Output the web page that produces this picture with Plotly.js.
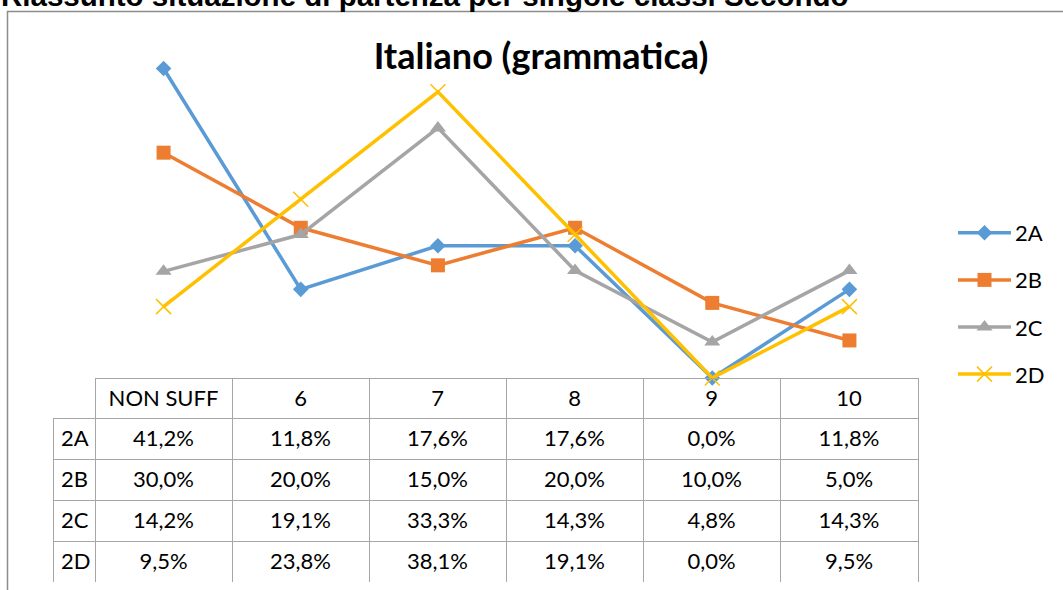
<!DOCTYPE html>
<html>
<head>
<meta charset="utf-8">
<script src="https://cdn.plot.ly/plotly-3.0.1.min.js"></script>
<style>
html,body{margin:0;padding:0;background:#fff;}
#chart{width:1063px;height:590px;}
#chart .legend .legendlines path.js-line{d:path("M5,0h53");}
#chart .legend .legendpoints path.scatterpts{transform:translate(31.5px,0px);}
#chart .cell-text{transform:translateY(3px);}
</style>
</head>
<body>
<div id="chart"></div>
<script>
const categories = ['NON SUFF', '6', '7', '8', '9', '10'];
const seriesNames = ['2A', '2B', '2C', '2D'];
const s2A = [41.2, 11.8, 17.6, 17.6, 0.0, 11.8];
const s2B = [30.0, 20.0, 15.0, 20.0, 10.0, 5.0];
const s2C = [14.2, 19.1, 33.3, 14.3, 4.8, 14.3];
const s2D = [9.5, 23.8, 38.1, 19.1, 0.0, 9.5];
const chartTitle = 'Italiano (grammatica)';
const pageTitle = 'Riassunto situazione di partenza per singole classi Secondo';

const seriesValues = [s2A, s2B, s2C, s2D];
const colors = ['#5B9BD5', '#ED7D31', '#A5A5A5', '#FFC000'];
const symbols = ['diamond', 'square', 'triangle-up', 'x-thin-open'];
const msizes = [12, 14, 14, 15];

// layout geometry (px)
const W = 1063, H = 590;
const L = 53, R = 918, T = 40, B = 582;
const PW = R - L, PH = B - T;
const px2x = p => (p - L) / PW;
const py2y = p => (B - p) / PH;
const chartLeft = 95, chartBottom = 378;

const FONT = 'Lato, "Open Sans", sans-serif';
const fmt = v => v.toFixed(1).replace('.', ',') + '%';

const traces = seriesNames.map((name, i) => ({
  type: 'scatter',
  mode: 'lines+markers',
  name: name,
  legendgroup: name,
  x: categories,
  y: seriesValues[i],
  line: {color: colors[i], width: 3.5},
  marker: {
    symbol: symbols[i], size: msizes[i], color: colors[i],
    line: {color: colors[i], width: symbols[i] === 'x-thin-open' ? 1.5 : 0}
  },
  cliponaxis: false,
  hoverinfo: 'x+y+name'
}));

const gridColor = '#A6A6A6';
const headerVals = [''].concat(categories);
const cellVals = [seriesNames].concat(categories.map((c, j) => seriesValues.map(s => fmt(s[j]))));

traces.push({
  type: 'table',
  domain: {x: [0, 1], y: [0, py2y(chartBottom)]},
  columnwidth: [42, 137, 137, 137, 137, 137, 138],
  header: {
    values: headerVals,
    height: 40,
    align: 'center',
    line: {color: headerVals.map((v, i) => i === 0 ? 'rgba(0,0,0,0)' : gridColor), width: 1},
    fill: {color: 'rgba(255,255,255,0)'},
    font: {family: FONT, size: 22, color: '#000'}
  },
  cells: {
    values: cellVals,
    height: 41,
    align: ['left', 'center', 'center', 'center', 'center', 'center', 'center'],
    line: {color: gridColor, width: 1},
    fill: {color: '#fff'},
    font: {family: FONT, size: 22, color: '#000'}
  }
});

const layout = {
  width: W, height: H,
  margin: {l: L, r: W - R, t: T, b: H - B, pad: 0},
  paper_bgcolor: '#fff',
  plot_bgcolor: 'rgba(0,0,0,0)',
  showlegend: true,
  title: {
    text: '<b>' + chartTitle + '</b>',
    font: {family: FONT, size: 36, color: '#000'},
    xref: 'paper', x: px2x(541), xanchor: 'center',
    yref: 'container', y: 1 - 56 / H, yanchor: 'middle'
  },
  xaxis: {
    type: 'category', domain: [px2x(chartLeft), 1], range: [-0.5, 5.5],
    visible: false, showgrid: false, zeroline: false, fixedrange: true
  },
  yaxis: {
    domain: [py2y(chartBottom), 1], range: [0, 45],
    visible: false, showgrid: false, zeroline: false, fixedrange: true
  },
  legend: {
    x: px2x(953), xanchor: 'left',
    y: py2y(212), yanchor: 'top',
    font: {family: FONT, size: 22, color: '#000'},
    tracegroupgap: 15.5,
    itemwidth: 52,
    bgcolor: 'rgba(0,0,0,0)'
  },
  shapes: [{
    type: 'rect', xref: 'paper', yref: 'paper',
    x0: px2x(7.5), x1: px2x(W + 10), y0: py2y(H + 10), y1: py2y(11.5),
    line: {color: '#8C8C8C', width: 1.5}, fillcolor: 'rgba(0,0,0,0)', layer: 'below'
  }],
  annotations: [{
    text: '<b>' + pageTitle + '</b>',
    xref: 'paper', yref: 'paper',
    x: px2x(-1), xanchor: 'left',
    y: py2y(-4), yanchor: 'middle',
    showarrow: false,
    font: {family: '"Liberation Sans", Arial, sans-serif', size: 29.5, color: '#000'}
  }]
};

Plotly.newPlot('chart', traces, layout, {displayModeBar: false, staticPlot: true});
</script>
</body>
</html>
